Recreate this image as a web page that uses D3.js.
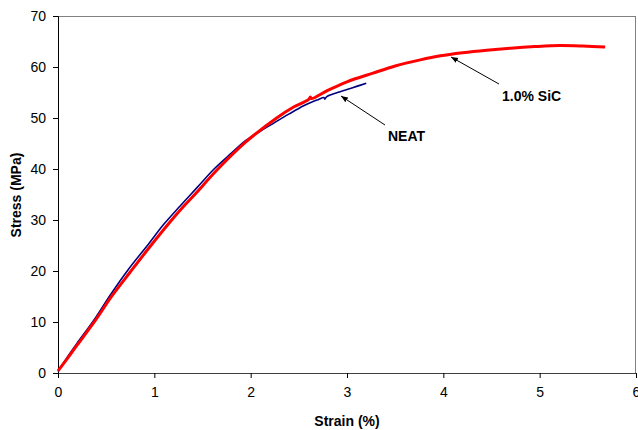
<!DOCTYPE html>
<html><head><meta charset="utf-8">
<script src="https://cdn.jsdelivr.net/npm/d3@7"></script>
<style>body{margin:0;background:#fff;} svg{display:block;font-family:"Liberation Sans",Arial,sans-serif;}</style>
</head><body>
<svg id="c" width="638" height="430"></svg>
<script>
const xTicks = [0,1,2,3,4,5,6];
const yTicks = [0,10,20,30,40,50,60,70];
const neatStrain = [0,0.1,0.2,0.37,0.55,0.73,0.94,1.1,1.27,1.45,1.62,1.8,1.95,2.1,2.24,2.4,2.55,2.63,2.7,2.76,2.77,2.79,2.9,3.0,3.1,3.2];
const neatStress = [0.3,3.2,5.9,10.3,15.5,20.3,25.3,29.2,32.8,36.5,40.0,43.1,45.6,47.4,49.0,50.8,52.4,53.1,53.6,54.0,53.7,54.2,55.0,55.6,56.2,56.8];
const sicStrain = [0,0.1,0.2,0.38,0.56,0.75,0.96,1.18,1.30,1.42,1.65,1.95,2.27,2.45,2.6,2.62,2.63,2.8,3.0,3.27,3.5,3.76,3.97,4.2,4.45,4.7,4.95,5.21,5.45,5.68];
const sicStress = [0.4,2.9,5.5,10.1,15.1,19.8,24.9,30.0,32.6,35.0,39.8,45.3,50.0,52.2,53.6,54.1,53.8,55.4,57.1,58.8,60.2,61.4,62.2,62.8,63.3,63.7,64.0,64.2,64.1,63.9];
const xLabel = "Strain (%)";
const yLabel = "Stress (MPa)";
const annotations = [
  {text:"NEAT", tx:388, ty:141, x1:385, y1:125, x2:341, y2:96},
  {text:"1.0% SiC", tx:502, ty:101, x1:499, y1:84, x2:451, y2:57}
];

const svg = d3.select("#c");
const x = d3.scaleLinear().domain([0,6]).range([58,636]);
const y = d3.scaleLinear().domain([0,70]).range([373,16]);

svg.append("defs").append("marker").attr("id","ah").attr("viewBox","0 0 10 10")
  .attr("refX",10).attr("refY",5).attr("markerWidth",7).attr("markerHeight",7)
  .attr("orient","auto").attr("markerUnits","userSpaceOnUse")
  .append("path").attr("d","M0,1 L10,5 L0,9 Z").attr("fill","#000");

// plot border top/right
svg.append("line").attr("x1",x(0)).attr("x2",x(6)).attr("y1",y(70)+0.5).attr("y2",y(70)+0.5).attr("stroke","#808080");
svg.append("line").attr("x1",x(6)-0.5).attr("x2",x(6)-0.5).attr("y1",y(70)).attr("y2",y(0)).attr("stroke","#808080");

const xa = svg.append("g").attr("transform",`translate(0,${y(0)})`)
  .call(d3.axisBottom(x).tickValues(xTicks).tickFormat(d3.format("d")).tickSizeOuter(0).tickSize(5).tickPadding(9));
xa.select(".domain").attr("stroke","#404040");
xa.selectAll(".tick line").attr("stroke","#000");
xa.selectAll("text").attr("font-size","14px").attr("fill","#000").attr("font-family","Liberation Sans, Arial, sans-serif");

const ya = svg.append("g").attr("transform",`translate(${x(0)},0)`)
  .call(d3.axisLeft(y).tickValues(yTicks).tickFormat(d3.format("d")).tickSizeOuter(0).tickSize(5).tickPadding(7));
ya.select(".domain").attr("stroke","#000");
ya.selectAll(".tick line").attr("stroke","#000");
ya.selectAll("text").attr("font-size","14px").attr("fill","#000").attr("font-family","Liberation Sans, Arial, sans-serif");

const line = d3.line().x(d=>x(d[0])).y(d=>y(d[1])).curve(d3.curveCatmullRom.alpha(0.5));
svg.append("path").datum(neatStrain.map((s,i)=>[s,neatStress[i]]))
  .attr("d",line).attr("fill","none").attr("stroke","#000080").attr("stroke-width",1.6);
svg.append("path").datum(sicStrain.map((s,i)=>[s,sicStress[i]]))
  .attr("d",line).attr("fill","none").attr("stroke","#ff0000").attr("stroke-width",3);

annotations.forEach(a=>{
  svg.append("line").attr("x1",a.x1).attr("y1",a.y1).attr("x2",a.x2).attr("y2",a.y2)
    .attr("stroke","#000").attr("stroke-width",1).attr("marker-end","url(#ah)");
  svg.append("text").attr("x",a.tx).attr("y",a.ty).attr("font-size","14px").attr("font-weight","bold").text(a.text);
});

svg.append("text").attr("x",347).attr("y",426).attr("text-anchor","middle")
  .attr("font-size","14px").attr("font-weight","bold").text(xLabel);
svg.append("text").attr("transform",`translate(21,195) rotate(-90)`).attr("text-anchor","middle")
  .attr("font-size","14px").attr("font-weight","bold").text(yLabel);
</script>
</body></html>
